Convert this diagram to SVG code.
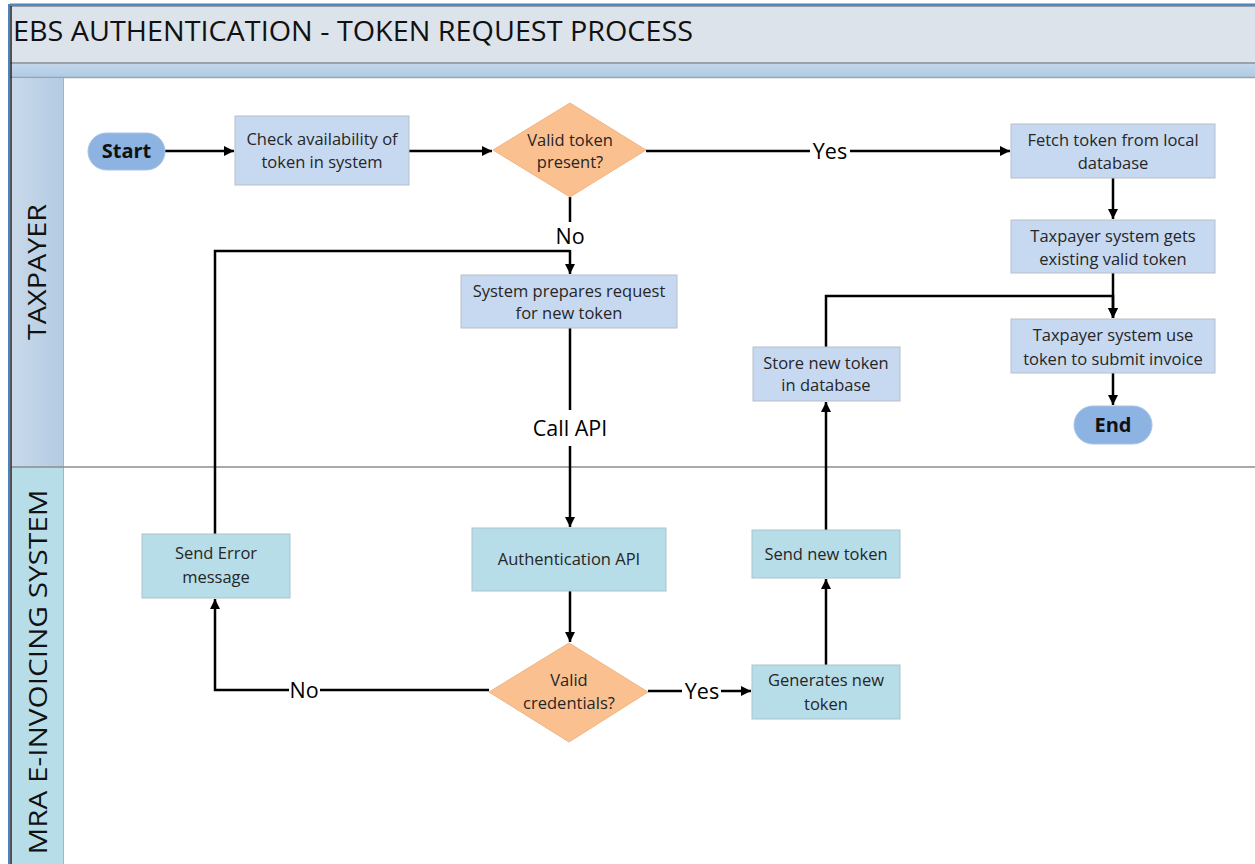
<svg xmlns="http://www.w3.org/2000/svg" width="1255" height="864" viewBox="0 0 1255 864">
  <defs>
    <marker id="arrow" viewBox="0 0 10 10" refX="10" refY="5" markerWidth="10" markerHeight="10" markerUnits="userSpaceOnUse" orient="auto">
      <path d="M0,0 L10,5 L0,10 z" fill="#000"/>
    </marker>
    <linearGradient id="laneTax" x1="0" y1="0" x2="1" y2="0">
      <stop offset="0" stop-color="#c9d9ea"/>
      <stop offset="1" stop-color="#b3cbe3"/>
    </linearGradient>
    <linearGradient id="band" x1="0" y1="0" x2="0" y2="1">
      <stop offset="0" stop-color="#c3d7eb"/>
      <stop offset="1" stop-color="#afcbe5"/>
    </linearGradient>
    <style>
      .proc { fill: #c6d9f1; stroke: #b7bfc9; stroke-width: 1; }
      .proc2 { fill: #b7dde8; stroke: #a9c4cc; stroke-width: 1; }
      .dec { fill: #fac090; stroke: #f0b584; stroke-width: 1; }
      .term { fill: #8db3e2; stroke: #a7c3e6; stroke-width: 1; }
      .t { font-family: "Open Sans", "Liberation Sans", sans-serif; font-size: 16.5px; fill: #262626; text-anchor: middle; }
      .tb { font-family: "Open Sans", "Liberation Sans", sans-serif; font-size: 20px; font-weight: bold; fill: #111; text-anchor: middle; }
      .lbl { font-family: "Open Sans", "Liberation Sans", sans-serif; font-size: 21.5px; fill: #000; text-anchor: middle; }
      .lane { font-family: "Open Sans", "Liberation Sans", sans-serif; font-size: 26px; fill: #111; text-anchor: middle; }
      .c { fill: none; stroke: #000; stroke-width: 2.5; }
      .ca { fill: none; stroke: #000; stroke-width: 2.5; marker-end: url(#arrow); }
    </style>
  </defs>

  <rect width="1255" height="864" fill="#fff"/>

  <!-- Pool frame: title band, sub-band and lane headers -->
  <g id="pool">
    <rect x="10" y="4" width="1245" height="59" fill="#dce3ea"/>
    <line x1="10" y1="4.5" x2="1255" y2="4.5" stroke="#4f81bd" stroke-width="2"/>
    <line x1="10" y1="6" x2="1255" y2="6" stroke="#4a5a6a" stroke-width="1"/>
    <line x1="10" y1="63" x2="1255" y2="63" stroke="#9aa3ad" stroke-width="2"/>
    <rect x="10" y="64" width="1245" height="13" fill="url(#band)"/>
    <line x1="10" y1="77.5" x2="1255" y2="77.5" stroke="#9aa3ad" stroke-width="1.5"/>
    <rect x="11" y="78" width="52" height="389" fill="url(#laneTax)"/>
    <rect x="11" y="467" width="52" height="397" fill="#b7dde8"/>
    <line x1="63.5" y1="78" x2="63.5" y2="864" stroke="#a7b4c0" stroke-width="1"/>
    <line x1="11" y1="467" x2="1255" y2="467" stroke="#8c8c8c" stroke-width="1.5"/>
    <line x1="9" y1="4" x2="9" y2="864" stroke="#4f81bd" stroke-width="2"/>
    <line x1="11" y1="6" x2="11" y2="864" stroke="#222" stroke-width="1.5"/>
    <text x="13" y="41" font-family="Open Sans, Liberation Sans, sans-serif" font-size="27" fill="#111" textLength="680" lengthAdjust="spacingAndGlyphs">EBS AUTHENTICATION - TOKEN REQUEST PROCESS</text>
    <text class="lane" transform="translate(46,272) rotate(-90)" textLength="136" lengthAdjust="spacingAndGlyphs">TAXPAYER</text>
    <text class="lane" transform="translate(47,672) rotate(-90)" font-size="28" textLength="365" lengthAdjust="spacingAndGlyphs">MRA E-INVOICING SYSTEM</text>
  </g>

  <!-- Connectors -->
  <g id="connectors">
    <line class="ca" x1="165" y1="151" x2="234" y2="151"/>
    <line class="ca" x1="409" y1="151" x2="492" y2="151"/>
    <line class="c" x1="646" y1="151" x2="810" y2="151"/>
    <line class="ca" x1="850" y1="151" x2="1010" y2="151"/>
    <line class="c" x1="570" y1="197" x2="570" y2="222"/>
    <path class="ca" d="M570,250 L570,274"/>
    <line class="c" x1="570" y1="328" x2="570" y2="410"/>
    <line class="ca" x1="570" y1="446" x2="570" y2="527"/>
    <line class="ca" x1="570" y1="591" x2="570" y2="642"/>
    <line class="c" x1="489" y1="690" x2="320" y2="690"/>
    <path class="ca" d="M289,690 L215,690 L215,599"/>
    <path class="c" d="M215,534 L215,251 L570,251"/>
    <line class="c" x1="648" y1="691" x2="682" y2="691"/>
    <line class="ca" x1="721" y1="691" x2="751" y2="691"/>
    <line class="ca" x1="826" y1="665" x2="826" y2="579"/>
    <line class="ca" x1="826" y1="530" x2="826" y2="402"/>
    <path class="ca" d="M826,347 L826,296 L1113,296 L1113,318"/>
    <line class="ca" x1="1113" y1="178" x2="1113" y2="219"/>
    <line class="ca" x1="1113" y1="273" x2="1113" y2="318"/>
    <line class="ca" x1="1113" y1="373" x2="1113" y2="405"/>
    <text class="lbl" x="830" y="159">Yes</text>
    <text class="lbl" x="570" y="244">No</text>
    <text class="lbl" x="570" y="436">Call API</text>
    <text class="lbl" x="304" y="698">No</text>
    <text class="lbl" x="702" y="699">Yes</text>
  </g>

  <g id="start">
    <rect class="term" x="88" y="133" width="77" height="37" rx="18.5"/>
    <text class="tb" x="126.5" y="158">Start</text>
  </g>
  <g id="check-availability">
    <rect class="proc" x="235" y="116" width="174" height="69"/>
    <text class="t" x="322" y="145">Check availability of</text>
    <text class="t" x="322" y="168">token in system</text>
  </g>
  <g id="valid-token">
    <polygon class="dec" points="570,103 646,150 570,197 493,150"/>
    <text class="t" x="570" y="146">Valid token</text>
    <text class="t" x="570" y="168">present?</text>
  </g>
  <g id="fetch-token">
    <rect class="proc" x="1011" y="124" width="204" height="54"/>
    <text class="t" x="1113" y="146">Fetch token from local</text>
    <text class="t" x="1113" y="169">database</text>
  </g>
  <g id="gets-existing">
    <rect class="proc" x="1011" y="220" width="204" height="53"/>
    <text class="t" x="1113" y="242">Taxpayer system gets</text>
    <text class="t" x="1113" y="265">existing valid token</text>
  </g>
  <g id="submit-invoice">
    <rect class="proc" x="1011" y="319" width="204" height="54"/>
    <text class="t" x="1113" y="341">Taxpayer system use</text>
    <text class="t" x="1113" y="365">token to submit invoice</text>
  </g>
  <g id="end">
    <rect class="term" x="1074" y="406" width="78" height="38" rx="19"/>
    <text class="tb" x="1113" y="432">End</text>
  </g>
  <g id="prepare-request">
    <rect class="proc" x="461" y="275" width="216" height="53"/>
    <text class="t" x="569" y="297">System prepares request</text>
    <text class="t" x="569" y="319">for new token</text>
  </g>
  <g id="store-token">
    <rect class="proc" x="753" y="347" width="147" height="54"/>
    <text class="t" x="826" y="369">Store new token</text>
    <text class="t" x="826" y="391">in database</text>
  </g>
  <g id="auth-api">
    <rect class="proc2" x="472" y="528" width="194" height="63"/>
    <text class="t" x="569" y="565">Authentication API</text>
  </g>
  <g id="send-error">
    <rect class="proc2" x="142" y="534" width="148" height="64"/>
    <text class="t" x="216" y="559">Send Error</text>
    <text class="t" x="216" y="583">message</text>
  </g>
  <g id="valid-credentials">
    <polygon class="dec" points="569,643 648,692 569,742 489,692"/>
    <text class="t" x="569" y="686">Valid</text>
    <text class="t" x="569" y="709">credentials?</text>
  </g>
  <g id="generate-token">
    <rect class="proc2" x="752" y="665" width="148" height="54"/>
    <text class="t" x="826" y="686">Generates new</text>
    <text class="t" x="826" y="710">token</text>
  </g>
  <g id="send-token">
    <rect class="proc2" x="752" y="530" width="148" height="48"/>
    <text class="t" x="826" y="560">Send new token</text>
  </g>
</svg>
